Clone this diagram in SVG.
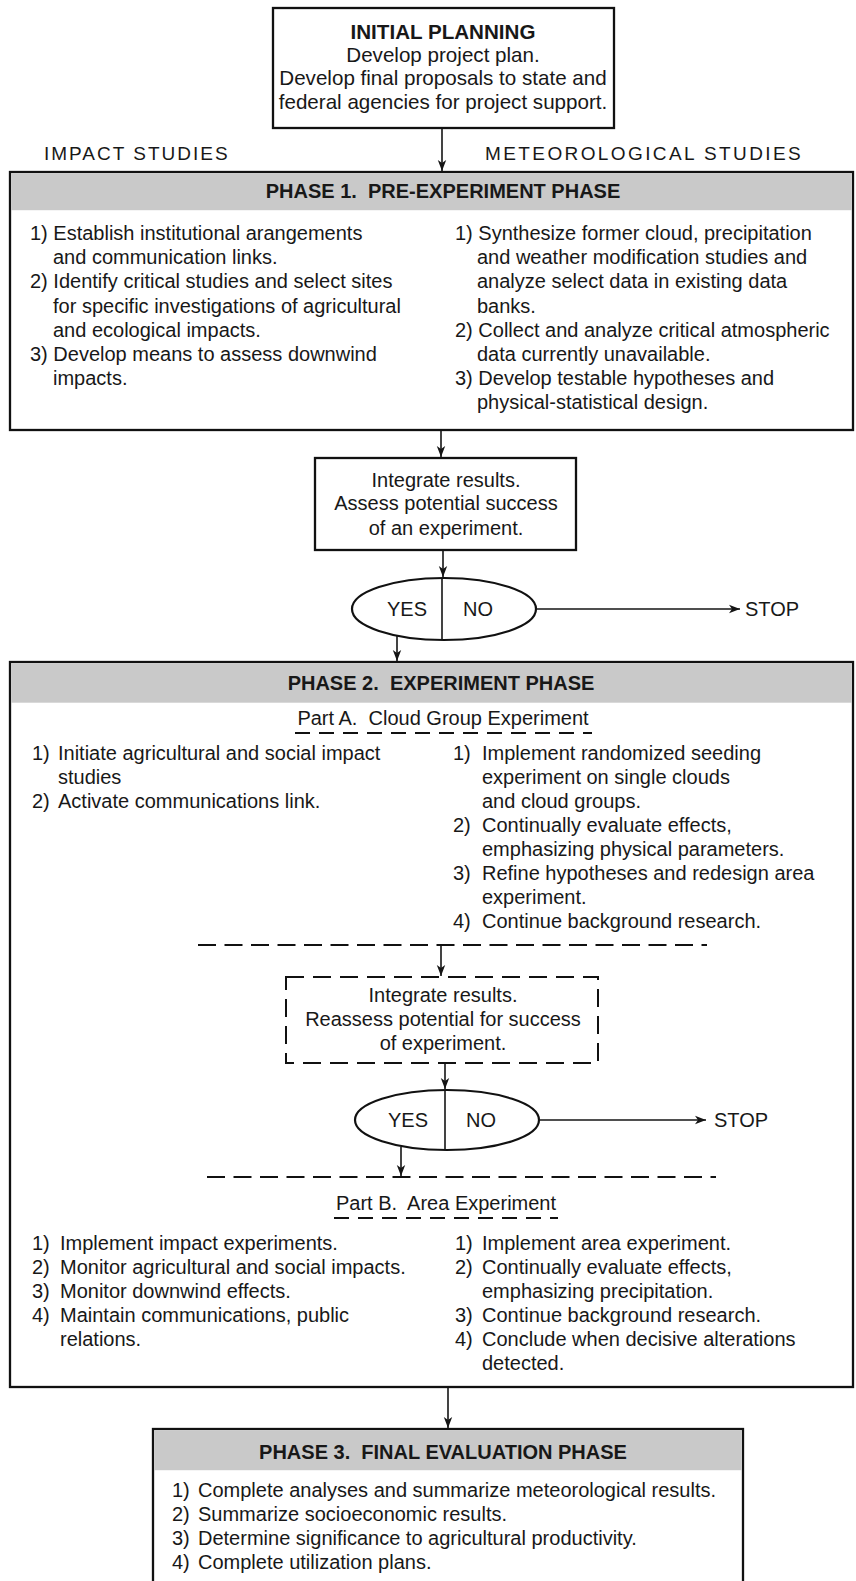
<svg xmlns="http://www.w3.org/2000/svg" width="856" height="1581" viewBox="0 0 856 1581">
<defs>
<marker id="ah" markerWidth="12" markerHeight="10" refX="11" refY="5" orient="auto" markerUnits="userSpaceOnUse">
<path d="M0,0.8 L11,5 L0,9.2 L3,5 z" fill="#151515"/>
</marker>
<style>
text{font-family:"Liberation Sans",Arial,Helvetica,sans-serif;font-size:20px;fill:#181818;white-space:pre}
.b{font-weight:bold}
.c{text-anchor:middle}
.ip{font-size:20.6px}
.lab{font-size:19px;letter-spacing:2px}
.lab2{font-size:19px;letter-spacing:2.4px}
.box{fill:#fff;stroke:#111;stroke-width:2.3}
.band{fill:#c9c9c9}
.dbox{fill:#fff;stroke:#111;stroke-width:2;stroke-dasharray:18 9}
.dl{stroke:#111;stroke-width:2;stroke-dasharray:18 8.5;fill:none}
.ul{stroke:#111;stroke-width:1.8;stroke-dasharray:15 9;fill:none}
.ln{stroke:#151515;stroke-width:1.6;fill:none}
.arr{stroke:#151515;stroke-width:1.6;fill:none;marker-end:url(#ah)}
.ell{fill:#fff;stroke:#111;stroke-width:2.2}
</style>
</defs>
<rect width="856" height="1581" fill="#fff"/>

<g id="initial-planning">
<rect class="box" x="273" y="8" width="341" height="120"/>
<text class="b c ip" x="443" y="39">INITIAL PLANNING</text>
<text class="c ip" x="443" y="62">Develop project plan.</text>
<text class="c ip" x="443" y="85">Develop final proposals to state and</text>
<text class="c ip" x="443" y="109">federal agencies for project support.</text>
</g>

<g id="column-labels">
<text class="lab" x="44" y="160">IMPACT STUDIES</text>
<text class="lab2" x="485" y="160">METEOROLOGICAL STUDIES</text>
</g>

<g id="phase1">
<rect class="box" x="10" y="172" width="843" height="258"/>
<rect class="band" x="11.2" y="173.2" width="840.6" height="37"/>
<text class="b c" x="443" y="198">PHASE 1.  PRE-EXPERIMENT PHASE</text>
<text x="30" y="240">1) Establish institutional arangements</text>
<text x="53" y="264">and communication links.</text>
<text x="30" y="288">2) Identify critical studies and select sites</text>
<text x="53" y="313">for specific investigations of agricultural</text>
<text x="53" y="337">and ecological impacts.</text>
<text x="30" y="361">3) Develop means to assess downwind</text>
<text x="53" y="385">impacts.</text>
<text x="455" y="240">1) Synthesize former cloud, precipitation</text>
<text x="477" y="264">and weather modification studies and</text>
<text x="477" y="288">analyze select data in existing data</text>
<text x="477" y="313">banks.</text>
<text x="455" y="337">2) Collect and analyze critical atmospheric</text>
<text x="477" y="361">data currently unavailable.</text>
<text x="455" y="385">3) Develop testable hypotheses and</text>
<text x="477" y="409">physical-statistical design.</text>
</g>

<g id="integrate1">
<rect class="box" x="315" y="458" width="261" height="92"/>
<text class="c" x="446" y="487">Integrate results.</text>
<text class="c" x="446" y="510">Assess potential success</text>
<text class="c" x="446" y="535">of an experiment.</text>
</g>

<g id="decision1">
<ellipse class="ell" cx="444" cy="609" rx="92" ry="31"/>
<line class="ln" x1="442" y1="578" x2="442" y2="640"/>
<text class="c" x="407" y="616">YES</text>
<text class="c" x="478" y="616">NO</text>
</g>
<g id="stop1"><text x="745" y="616">STOP</text></g>

<g id="phase2">
<rect class="box" x="10" y="662" width="843" height="725"/>
<rect class="band" x="11.2" y="663.2" width="840.6" height="39.5"/>
<text class="b c" x="441" y="690">PHASE 2.  EXPERIMENT PHASE</text>
<text class="c" x="443" y="725">Part A.  Cloud Group Experiment</text>
<line class="ul" x1="295" y1="733" x2="592" y2="733"/>
<text x="32" y="760">1)</text><text x="58" y="760">Initiate agricultural and social impact</text>
<text x="58" y="784">studies</text>
<text x="32" y="808">2)</text><text x="58" y="808">Activate communications link.</text>
<text x="453" y="760">1)</text><text x="482" y="760">Implement randomized seeding</text>
<text x="482" y="784">experiment on single clouds</text>
<text x="482" y="808">and cloud groups.</text>
<text x="453" y="832">2)</text><text x="482" y="832">Continually evaluate effects,</text>
<text x="482" y="856">emphasizing physical parameters.</text>
<text x="453" y="880">3)</text><text x="482" y="880">Refine hypotheses and redesign area</text>
<text x="482" y="904">experiment.</text>
<text x="453" y="928">4)</text><text x="482" y="928">Continue background research.</text>
<line class="dl" x1="198" y1="945" x2="707" y2="945"/>
<line class="dl" x1="207" y1="1177" x2="716" y2="1177"/>
<text class="c" x="446" y="1210">Part B.  Area Experiment</text>
<line class="ul" x1="334" y1="1218" x2="558" y2="1218"/>
<text x="32" y="1250">1)</text><text x="60" y="1250">Implement impact experiments.</text>
<text x="32" y="1274">2)</text><text x="60" y="1274">Monitor agricultural and social impacts.</text>
<text x="32" y="1298">3)</text><text x="60" y="1298">Monitor downwind effects.</text>
<text x="32" y="1322">4)</text><text x="60" y="1322">Maintain communications, public</text>
<text x="60" y="1346">relations.</text>
<text x="455" y="1250">1)</text><text x="482" y="1250">Implement area experiment.</text>
<text x="455" y="1274">2)</text><text x="482" y="1274">Continually evaluate effects,</text>
<text x="482" y="1298">emphasizing precipitation.</text>
<text x="455" y="1322">3)</text><text x="482" y="1322">Continue background research.</text>
<text x="455" y="1346">4)</text><text x="482" y="1346">Conclude when decisive alterations</text>
<text x="482" y="1370">detected.</text>
</g>

<g id="integrate2">
<rect class="dbox" x="286" y="977" width="312" height="86"/>
<text class="c" x="443" y="1002">Integrate results.</text>
<text class="c" x="443" y="1026">Reassess potential for success</text>
<text class="c" x="443" y="1050">of experiment.</text>
</g>

<g id="decision2">
<ellipse class="ell" cx="447" cy="1120" rx="92" ry="30"/>
<line class="ln" x1="445" y1="1090" x2="445" y2="1150"/>
<text class="c" x="408" y="1127">YES</text>
<text class="c" x="481" y="1127">NO</text>
</g>
<g id="stop2"><text x="714" y="1127">STOP</text></g>

<g id="phase3">
<rect class="box" x="153" y="1429" width="590" height="170"/>
<rect class="band" x="154.2" y="1430.2" width="587.6" height="40"/>
<text class="b c" x="443" y="1459">PHASE 3.  FINAL EVALUATION PHASE</text>
<text x="172" y="1497">1)</text><text x="198" y="1497">Complete analyses and summarize meteorological results.</text>
<text x="172" y="1521">2)</text><text x="198" y="1521">Summarize socioeconomic results.</text>
<text x="172" y="1545">3)</text><text x="198" y="1545">Determine significance to agricultural productivity.</text>
<text x="172" y="1569">4)</text><text x="198" y="1569">Complete utilization plans.</text>
</g>

<g id="connectors">
<line class="arr" x1="442" y1="129" x2="442" y2="171"/>
<line class="arr" x1="441" y1="431" x2="441" y2="457"/>
<line class="arr" x1="443" y1="551" x2="443" y2="577"/>
<line class="arr" x1="536" y1="609" x2="740" y2="609"/>
<line class="arr" x1="397" y1="636" x2="397" y2="661"/>
<line class="arr" x1="441" y1="946" x2="441" y2="976"/>
<line class="arr" x1="445" y1="1064" x2="445" y2="1089"/>
<line class="arr" x1="539" y1="1120" x2="706" y2="1120"/>
<line class="arr" x1="401" y1="1147" x2="401" y2="1176"/>
<line class="arr" x1="448" y1="1388" x2="448" y2="1428"/>
</g>
</svg>
